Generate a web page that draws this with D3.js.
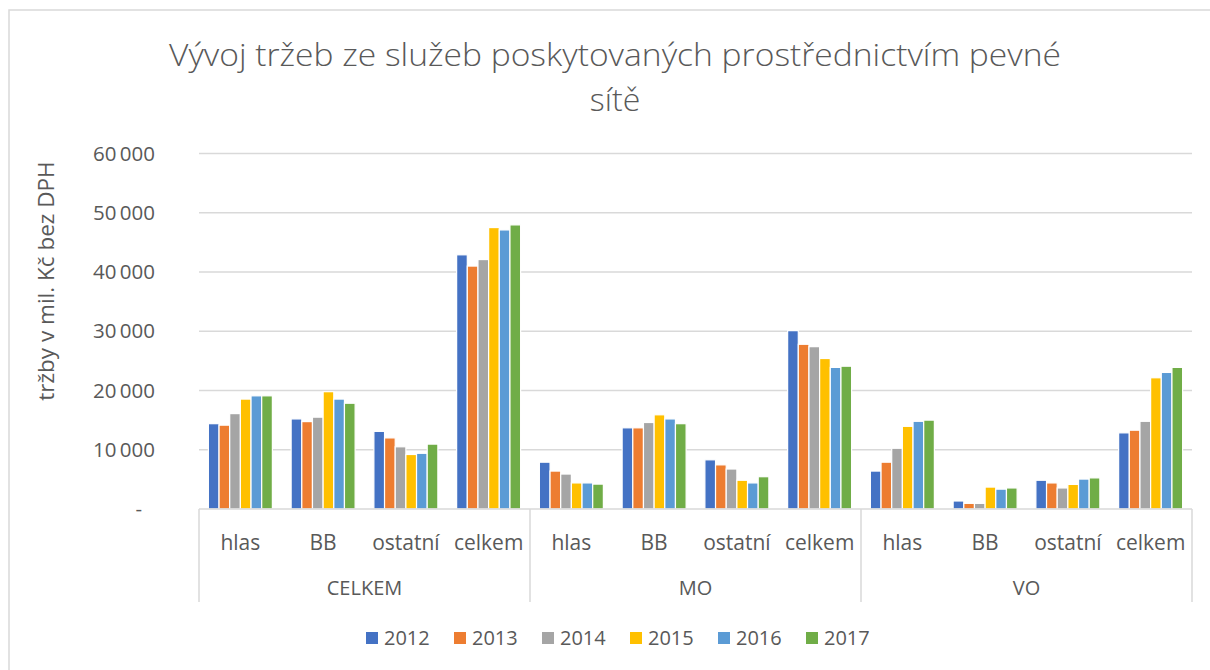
<!DOCTYPE html>
<html>
<head>
<meta charset="utf-8">
<script src="https://cdn.jsdelivr.net/npm/d3@7"></script>
<style>
  body { margin: 0; background: #fff; }
  text { font-family: "Open Sans", "DejaVu Sans", sans-serif; fill: #595959; }
</style>
</head>
<body>
<div id="chart"></div>
<script>
// data
var groups = ["CELKEM", "MO", "VO"];
var subcats = ["hlas", "BB", "ostatní", "celkem"];
var years = ["2012", "2013", "2014", "2015", "2016", "2017"];
var colors = ["#4472c4", "#ed7d31", "#a5a5a5", "#ffc000", "#5b9bd5", "#70ad47"];
var yTicks = [0, 10000, 20000, 30000, 40000, 50000, 60000];

// values per year, order: CELKEM(hlas,BB,ostatní,celkem), MO(...), VO(...)
var v2012 = [14400, 15200, 13100, 42900,  7900, 13700, 8300, 30100,  6400, 1350, 4850, 12850];
var v2013 = [14150, 14750, 12000, 41000,  6400, 13700, 7450, 27800,  7900,  950, 4400, 13300];
var v2014 = [16100, 15500, 10500, 42100,  5900, 14600, 6750, 27400, 10250,  950, 3550, 14800];
var v2015 = [18550, 19800,  9200, 47500,  4400, 15900, 4850, 25400, 13950, 3700, 4150, 22150];
var v2016 = [19100, 18550,  9400, 47100,  4400, 15200, 4400, 23900, 14800, 3350, 5050, 23050];
var v2017 = [19100, 17850, 10950, 47950,  4200, 14400, 5450, 24100, 15000, 3550, 5250, 23900];
var series = [v2012, v2013, v2014, v2015, v2016, v2017];

var W = 1210, H = 670;
var plot = {left: 199, right: 1192, top: 153.5, bottom: 509};

var svg = d3.select('#chart')
  .append('svg')
  .attr('width', W)
  .attr('height', H);

// chart frame
svg.append('rect')
  .attr('x', 9).attr('y', 10)
  .attr('width', W + 20).attr('height', H + 20)
  .attr('fill', 'none')
  .attr('stroke', '#d9d9d9')
  .attr('stroke-width', 1.5);

// title
var title = svg.append('text')
  .attr('text-anchor', 'middle')
  .style('font-size', '32px')
  .style('font-weight', 300);
title.append('tspan').attr('x', 615).attr('y', 66)
  .attr('textLength', 892)
  .attr('lengthAdjust', 'spacingAndGlyphs')
  .text('Vývoj tržeb ze služeb poskytovaných prostřednictvím pevné');
title.append('tspan').attr('x', 615).attr('y', 111)
  .text('sítě');

var keys = [];
groups.forEach(function (g) {
  subcats.forEach(function (s) { keys.push(g + '|' + s); });
});

var x0 = d3.scaleBand()
  .domain(keys)
  .range([plot.left, plot.right]);

var x1 = d3.scaleBand()
  .domain(years)
  .range([0, x0.bandwidth()])
  .paddingInner(0)
  .paddingOuter(0.88);

var y = d3.scaleLinear()
  .domain([0, 60000])
  .range([plot.bottom, plot.top]);

// gridlines
svg.append('g')
  .selectAll('line')
  .data(yTicks.slice(1))
  .enter()
  .append('line')
  .attr('x1', plot.left)
  .attr('x2', plot.right)
  .attr('y1', function (d) { return y(d); })
  .attr('y2', function (d) { return y(d); })
  .attr('stroke', '#d9d9d9')
  .attr('stroke-width', 1.5);

// y tick labels
var fmt = function (d) {
  if (d === 0) return '-';
  return d3.format(',')(d).replace(/,/g, '\u2009');
};
svg.append('g')
  .selectAll('text')
  .data(yTicks)
  .enter()
  .append('text')
  .attr('x', function (d) { return d === 0 ? 142 : 155; })
  .attr('y', function (d) { return y(d); })
  .attr('dy', '0.35em')
  .attr('text-anchor', 'end')
  .style('font-size', '20.5px')
  .text(fmt);

// y axis title
svg.append('text')
  .attr('transform', 'translate(54,281) rotate(-90)')
  .attr('text-anchor', 'middle')
  .style('font-size', '22.5px')
  .text('tržby v mil. Kč bez DPH');

// bars
var barG = svg.append('g');
series.forEach(function (vals, si) {
  barG.append('g')
    .selectAll('rect')
    .data(vals)
    .enter()
    .append('rect')
    .attr('x', function (d, i) { return x0(keys[i]) + x1(years[si]); })
    .attr('y', function (d) { return y(d); })
    .attr('width', x1.bandwidth())
    .attr('height', function (d) { return plot.bottom - y(d); })
    .attr('fill', colors[si])
    .attr('stroke', '#fff')
    .attr('stroke-width', 1.2);
});

// category axis
var axisG = svg.append('g');
axisG.append('line')
  .attr('x1', plot.left).attr('x2', plot.right)
  .attr('y1', plot.bottom).attr('y2', plot.bottom)
  .attr('stroke', '#d9d9d9').attr('stroke-width', 1.5);

var sepX = groups.map(function (g) { return x0(g + '|' + subcats[0]); });
sepX.push(plot.right);
axisG.selectAll('.sep')
  .data(sepX)
  .enter()
  .append('line')
  .attr('x1', function (d) { return d; })
  .attr('x2', function (d) { return d; })
  .attr('y1', plot.bottom)
  .attr('y2', 602)
  .attr('stroke', '#d9d9d9')
  .attr('stroke-width', 1.5);

axisG.selectAll('.sub')
  .data(keys)
  .enter()
  .append('text')
  .attr('x', function (d) { return x0(d) + x0.bandwidth() / 2; })
  .attr('y', 543)
  .attr('dy', '0.35em')
  .attr('text-anchor', 'middle')
  .style('font-size', '21px')
  .text(function (d) { return d.split('|')[1]; });

axisG.selectAll('.grp')
  .data(groups)
  .enter()
  .append('text')
  .attr('x', function (d) { return x0(d + '|' + subcats[0]) + x0.bandwidth() * 2; })
  .attr('y', 588)
  .attr('dy', '0.35em')
  .attr('text-anchor', 'middle')
  .style('font-size', '20px')
  .text(function (d) { return d; });

// legend
var lx = d3.scaleBand()
  .domain(years)
  .range([366, 366 + 6 * 88]);

var leg = svg.append('g')
  .selectAll('g')
  .data(years)
  .enter()
  .append('g')
  .attr('transform', function (d) { return 'translate(' + lx(d) + ',638)'; });

leg.append('rect')
  .attr('x', 0).attr('y', -6)
  .attr('width', 12).attr('height', 12)
  .attr('fill', function (d, i) { return colors[i]; });

leg.append('text')
  .attr('x', 18)
  .attr('dy', '0.35em')
  .style('font-size', '20px')
  .text(function (d) { return d; });
</script>
</body>
</html>
